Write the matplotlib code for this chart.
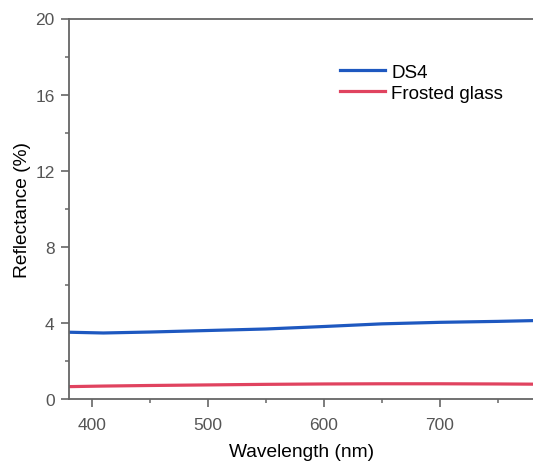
import matplotlib.pyplot as plt
from matplotlib.ticker import MultipleLocator

plt.rcParams['font.family'] = ['Liberation Sans', 'DejaVu Sans']

# reflectance spectra, sampled every 50 nm
wavelength = [380, 410, 450, 500, 550, 600, 650, 700, 750, 780]
ds4 = [3.51, 3.47, 3.52, 3.60, 3.68, 3.81, 3.95, 4.03, 4.08, 4.12]
frosted_glass = [0.65, 0.68, 0.71, 0.74, 0.77, 0.79, 0.80, 0.80, 0.79, 0.78]

axis_color = '#666666'
tick_label_color = '#555555'

fig = plt.figure(figsize=(5.33, 4.64), dpi=100)
ax = fig.add_axes([68.5 / 533, 64 / 464, (535 - 68.5) / 533, 380.5 / 464])

ax.plot(wavelength, ds4, color='#1e58c0', lw=2.3, label='DS4')
ax.plot(wavelength, frosted_glass, color='#e0435f', lw=2.3, label='Frosted glass')

ax.set_xlim(380, 782)
ax.set_ylim(0, 20)
ax.xaxis.set_major_locator(MultipleLocator(100))
ax.xaxis.set_minor_locator(MultipleLocator(50))
ax.yaxis.set_major_locator(MultipleLocator(4))
ax.yaxis.set_minor_locator(MultipleLocator(2))

for side in ['left', 'bottom', 'top']:
    ax.spines[side].set_color(axis_color)
    ax.spines[side].set_linewidth(1.3)
ax.spines['right'].set_visible(False)

ax.tick_params(which='major', direction='out', length=6, width=1.2,
               color=axis_color, labelcolor=tick_label_color, labelsize=12.5)
ax.tick_params(which='minor', direction='out', length=3, width=1.1, color=axis_color)
ax.tick_params(axis='x', pad=7)
ax.tick_params(axis='y', pad=4)

ax.set_xlabel('Wavelength (nm)', fontsize=13.8, labelpad=8)
ax.set_ylabel('Reflectance (%)', fontsize=13.8, labelpad=3)

ax.legend(loc='upper left', bbox_to_anchor=(0.545, 0.925), frameon=False,
          fontsize=13.5, handlelength=2.4, handletextpad=0.35, labelspacing=0.2)

fig.savefig('out.png', dpi=100)
